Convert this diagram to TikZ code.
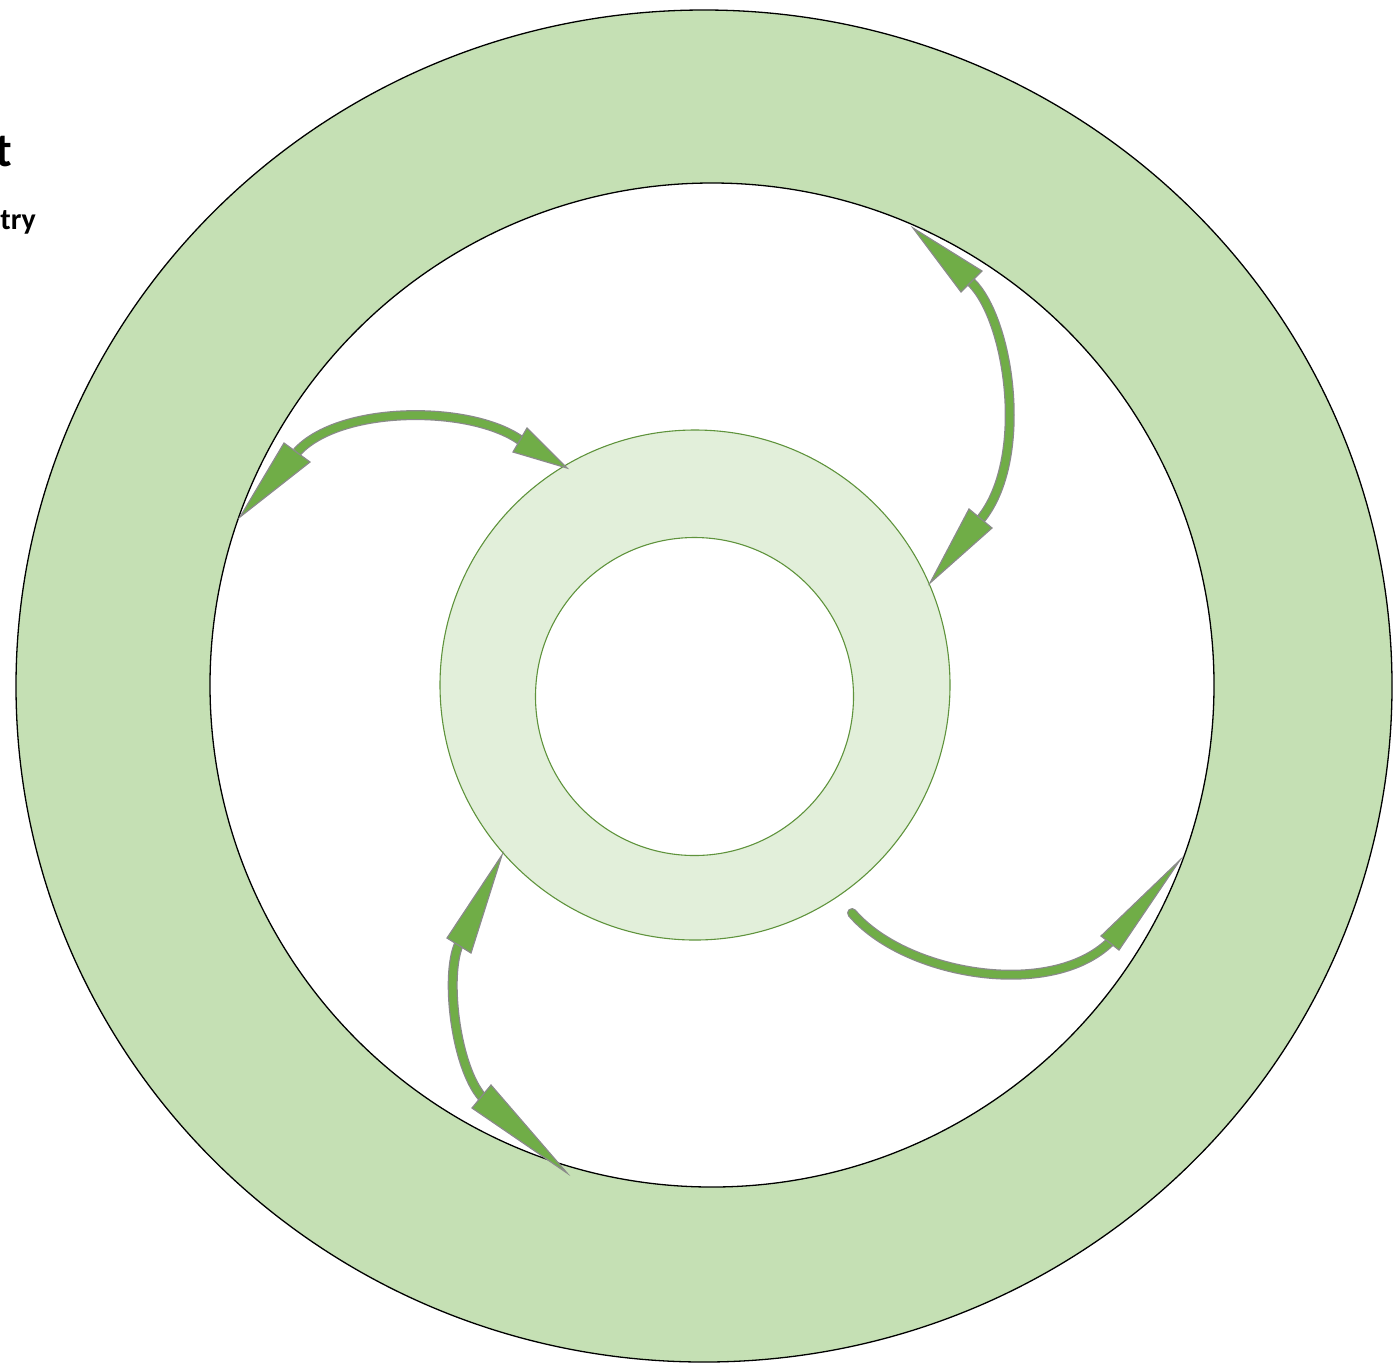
\documentclass[tikz,border=0pt]{standalone}
\usepackage{fontspec}
\setmainfont{Carlito}
\definecolor{ringA}{HTML}{C5E0B4}
\definecolor{ringB}{HTML}{E2EFDA}
\definecolor{arrG}{HTML}{70AD47}
\definecolor{arrO}{HTML}{8A8A8A}
\tikzset{
  shaftout/.style={draw=arrO, line width=10pt},
  shaftin/.style={draw=arrG, line width=7.5pt},
  headtri/.style={fill=arrG, draw=arrO, line width=1.2pt, line join=miter},
}
\begin{document}
\begin{tikzpicture}[x=1pt,y=-1pt]
\useasboundingbox (0,0) rectangle (1396,1369);
\clip (0,0) rectangle (1396,1369);
% outer ring
\coordinate (oc) at (704,686);
\coordinate (ic) at (712,685);
\fill[ringA, even odd rule] (oc) ellipse [x radius=688pt, y radius=676pt] (ic) circle [radius=502pt];
\draw[black, line width=1.3pt] (oc) ellipse [x radius=688pt, y radius=676pt];
\draw[black, line width=1.3pt] (ic) circle [radius=502pt];
% inner ring
\coordinate (rc) at (695,685);
\coordinate (hc) at (694.5,696.5);
\fill[ringB, even odd rule] (rc) circle [radius=255pt] (hc) circle [radius=159pt];
\draw[arrG!85!black, line width=1.1pt] (rc) circle [radius=255pt];
\draw[arrG!85!black, line width=1.1pt] (hc) circle [radius=159pt];
% partial texts at left edge
\node[anchor=base east, inner sep=0pt, font=\bfseries\fontsize{48}{52}\selectfont] (tA) at (12,166) {t};
\node[anchor=base east, inner sep=0pt, font=\bfseries\fontsize{30}{33}\selectfont] (tB) at (36,229) {try};
% arrow 1 (upper left, double headed)
\coordinate (a1s) at (297,452); \coordinate (a1e) at (520,440);
\draw[shaftout] (a1s) .. controls (340,405) and (470,405) .. (a1e);
\draw[shaftin] (a1s) .. controls (340,405) and (470,405) .. (a1e);
\draw[headtri] (240,517) -- (284,443) -- (310,462) -- cycle;
\draw[headtri] (567,468) -- (527,428) -- (513,452) -- cycle;
% arrow 2 (top right, double headed)
\coordinate (a2s) at (971,282); \coordinate (a2e) at (980,520);
\draw[shaftout] (a2s) .. controls (1010,320) and (1030,460) .. (a2e);
\draw[shaftin] (a2s) .. controls (1010,320) and (1030,460) .. (a2e);
\draw[headtri] (913,228) -- (982,271) -- (961,292) -- cycle;
\draw[headtri] (930,583) -- (969,509) -- (992,528) -- cycle;
% arrow 3 (bottom left, double headed)
\coordinate (a3s) at (459,944); \coordinate (a3e) at (482,1097);
\draw[shaftout] (a3s) .. controls (445,975) and (455,1065) .. (a3e);
\draw[shaftin] (a3s) .. controls (445,975) and (455,1065) .. (a3e);
\draw[headtri] (502,855) -- (447,938) -- (471,953) -- cycle;
\draw[headtri] (567,1173) -- (472,1108) -- (491,1085) -- cycle;
% arrow 4 (bottom right, single headed)
\coordinate (a4s) at (852,913); \coordinate (a4e) at (1110,942);
\draw[shaftout, line cap=round] (a4s) .. controls (905,975) and (1050,1000) .. (a4e);
\draw[shaftin, line cap=round] (a4s) .. controls (905,975) and (1050,1000) .. (a4e);
\draw[headtri] (1180,860) -- (1101,936) -- (1119,950) -- cycle;
\end{tikzpicture}
\end{document}
